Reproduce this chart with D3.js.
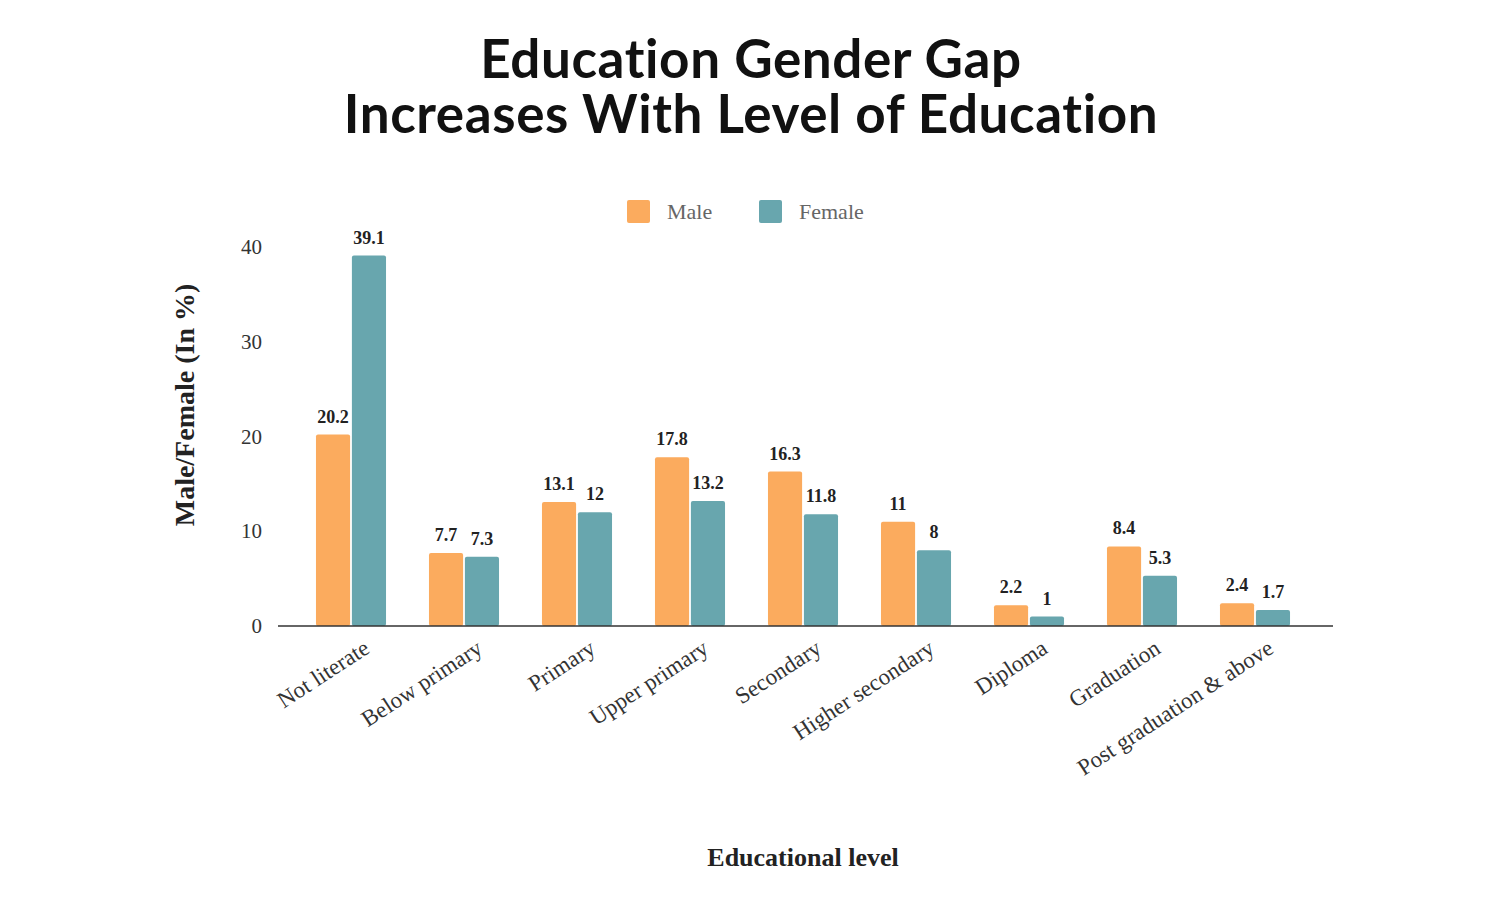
<!DOCTYPE html>
<html><head><meta charset="utf-8">
<script src="https://cdn.jsdelivr.net/npm/d3@7"></script>
<style>body{margin:0;background:#fff}</style>
</head><body>
<svg id="chart" width="1500" height="900"></svg>
<script>
const categories = ['Not literate', 'Below primary', 'Primary', 'Upper primary', 'Secondary',
    'Higher secondary', 'Diploma', 'Graduation', 'Post graduation & above'];
const male = [20.2, 7.7, 13.1, 17.8, 16.3, 11, 2.2, 8.4, 2.4];
const female = [39.1, 7.3, 12, 13.2, 11.8, 8, 1, 5.3, 1.7];
const yTicks = [0, 10, 20, 30, 40];

const colors = { male: '#fbab5e', female: '#68a6ae' };
const serif = '"Liberation Serif", "DejaVu Serif", serif';

const svg = d3.select('#chart');

// title
[['Education Gender Gap', 78], ['Increases With Level of Education', 133]].forEach(([t, ty]) => {
    svg.append('text').attr('x', 751).attr('y', ty).attr('text-anchor', 'middle')
        .attr('font-family', 'Lato, sans-serif').attr('font-weight', 700).attr('font-size', 53)
        .attr('letter-spacing', 0.6).attr('fill', '#111').text(t);
});

const x = d3.scaleBand().domain(categories).range([294.5, 1311.5]).paddingInner(0.38).paddingOuter(0.19);
const y = d3.scaleLinear().domain([0, 40]).range([626, 247]);
const sub = d3.scaleBand().domain(['male', 'female']).range([0, x.bandwidth()]).paddingInner(0.05);

// y ticks
svg.append('g').selectAll('text').data(yTicks).join('text')
    .attr('x', 262).attr('y', d => y(d) + 7).attr('text-anchor', 'end')
    .attr('font-family', serif).attr('font-size', 21).attr('fill', '#333').text(d => d);

// bars
const groups = svg.append('g').selectAll('g').data(categories).join('g')
    .attr('transform', d => `translate(${x(d)},0)`);
groups.each(function (c, i) {
    const g = d3.select(this);
    [['male', male[i]], ['female', female[i]]].forEach(([k, v]) => {
        g.append('rect').attr('x', sub(k)).attr('y', y(v)).attr('width', sub.bandwidth())
            .attr('height', y(0) - y(v)).attr('rx', 2).attr('fill', colors[k]);
        g.append('text').attr('x', sub(k) + sub.bandwidth() / 2).attr('y', y(v) - 12)
            .attr('text-anchor', 'middle').attr('font-family', serif).attr('font-weight', 700)
            .attr('font-size', 18).attr('fill', '#222').text(v);
    });
});

// baseline
svg.append('line').attr('x1', 278).attr('x2', 1333).attr('y1', y(0)).attr('y2', y(0))
    .attr('stroke', '#333').attr('stroke-width', 1.5);

// x labels
svg.append('g').selectAll('text').data(categories).join('text')
    .attr('transform', d => `translate(${x(d) + x.bandwidth() / 2 + 20},${652}) rotate(-33)`)
    .attr('text-anchor', 'end').attr('font-family', serif).attr('font-size', 23).attr('fill', '#333')
    .text(d => d);

// axis titles
svg.append('text').attr('transform', 'translate(194,405) rotate(-90)').attr('text-anchor', 'middle')
    .attr('font-family', serif).attr('font-weight', 700).attr('font-size', 28).attr('fill', '#222')
    .text('Male/Female (In %)');
svg.append('text').attr('x', 803).attr('y', 866).attr('text-anchor', 'middle')
    .attr('font-family', serif).attr('font-weight', 700).attr('font-size', 26).attr('fill', '#222')
    .text('Educational level');

// legend
const legend = [['Male', colors.male, 627], ['Female', colors.female, 759]];
legend.forEach(([t, c, lx]) => {
    svg.append('rect').attr('x', lx).attr('y', 200).attr('width', 23).attr('height', 23).attr('rx', 2).attr('fill', c);
    svg.append('text').attr('x', lx + 40).attr('y', 219).attr('font-family', serif)
        .attr('font-size', 22).attr('fill', '#666').text(t);
});
</script>
</body></html>
